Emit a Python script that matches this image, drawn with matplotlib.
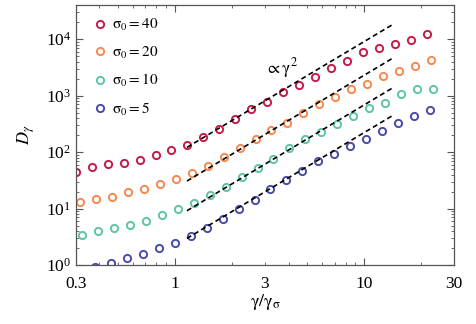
import numpy as np
import matplotlib
matplotlib.use("Agg")
import matplotlib.pyplot as plt
from matplotlib.ticker import LogLocator, FuncFormatter, LogFormatterSciNotation

plt.rcParams["font.family"] = "serif"
plt.rcParams["font.serif"] = ["Liberation Serif", "DejaVu Serif"]
plt.rcParams["mathtext.fontset"] = "stix"

# gamma / gamma_sigma values and D_gamma for each sigma_0
x_40 = [0.300, 0.364, 0.442, 0.537, 0.652, 0.792, 0.961, 1.167, 1.417, 1.721, 2.089, 2.537,
        3.080, 3.741, 4.542, 5.515, 6.697, 8.132, 9.875, 11.99, 14.56, 17.68, 21.47]
d_40 = [45.1, 54.2, 61.0, 64.4, 73.6, 88.1, 110.7, 134.2, 188.4, 261, 383, 577,
        786, 1182, 1574, 2155, 3026, 4143, 5985, 6955, 8054, 9642, 12470]

x_20 = [0.316, 0.384, 0.466, 0.566, 0.687, 0.835, 1.013, 1.230, 1.494, 1.814, 2.202, 2.674,
        3.246, 3.943, 4.787, 5.813, 7.059, 8.571, 10.41, 12.64, 15.35, 18.64, 22.63]
d_20 = [13.3, 14.8, 16.2, 19.5, 22.5, 26.7, 33.5, 42.8, 56.9, 81.2, 117.3, 171.4,
        244.5, 333, 495, 707, 963, 1304, 1618, 2217, 2753, 3336, 4259]

x_10 = [0.324, 0.393, 0.477, 0.580, 0.704, 0.855, 1.038, 1.260, 1.530, 1.859, 2.256, 2.740,
        3.326, 4.040, 4.905, 5.956, 7.233, 8.783, 10.67, 12.95, 15.72, 19.09, 23.19]
d_10 = [3.40, 4.01, 4.48, 5.12, 6.10, 7.70, 9.72, 12.4, 17.1, 24.4, 35.9, 52.4,
        76.7, 117.8, 169.4, 230, 319, 439, 615, 745, 1076, 1337, 1321]

x_5 = [0.379, 0.460, 0.559, 0.679, 0.824, 1.000, 1.215, 1.475, 1.792, 2.175, 2.641,
       3.206, 3.894, 4.728, 5.741, 6.972, 8.465, 10.28, 12.48, 15.16, 18.41, 22.35]
d_5 = [0.933, 1.099, 1.315, 1.586, 2.00, 2.48, 3.23, 4.53, 6.46, 9.96, 14.0,
       22.0, 31.8, 45.5, 69.8, 92.9, 128.8, 171.5, 237.6, 325, 442, 553]

# gamma^2 guide lines: prefactors and x range
fit_x = np.array([1.16, 14.4])
fit_coef = [90.0, 22.8, 6.8, 2.2]

series = [
    (x_40, d_40, "#c41c4a", r"$\mathrm{\sigma}_0 = 40$"),
    (x_20, d_20, "#f7894f", r"$\mathrm{\sigma}_0 = 20$"),
    (x_10, d_10, "#5ec6a0", r"$\mathrm{\sigma}_0 = 10$"),
    (x_5, d_5, "#4a4ca8", r"$\mathrm{\sigma}_0 = 5$"),
]

fig = plt.figure(figsize=(4.77, 3.24), dpi=100)
ax = fig.add_axes([0.159, 0.182, 0.952 - 0.159, 0.985 - 0.182])

for c in fit_coef:
    ax.plot(fit_x, c * fit_x ** 2, color="black", lw=1.2, dashes=(3, 2), zorder=3)

for xs, ds, col, lab in series:
    ax.plot(xs, ds, "o", mfc="none", mec=col, mew=1.4, ms=5.2, label=lab, zorder=2)

ax.set_xscale("log")
ax.set_yscale("log")
ax.set_xlim(0.3, 30)
ax.set_ylim(1, 4.05e4)

ax.xaxis.set_major_locator(LogLocator(base=10))
ax.xaxis.set_major_formatter(FuncFormatter(lambda v, p: "%g" % v))
ax.xaxis.set_minor_locator(LogLocator(base=10, subs=np.arange(2, 10)))
ax.xaxis.set_minor_formatter(FuncFormatter(
    lambda v, p: "%g" % v if any(abs(v - t) < 1e-6 * t for t in (0.3, 3, 30)) else ""))
ax.yaxis.set_major_formatter(LogFormatterSciNotation())

ax.tick_params(which="both", direction="in", top=True, right=True, color="#555555",
               labelsize=12.5)
ax.tick_params(which="major", length=5, width=0.8)
ax.tick_params(which="minor", length=2.5, width=0.6)
ax.tick_params(axis="x", which="both", pad=8)
for s in ax.spines.values():
    s.set_color("#555555")
    s.set_linewidth(0.9)

ax.set_xlabel(r"$\mathrm{\gamma/\gamma_\sigma}$", fontsize=13, labelpad=0)
ax.set_ylabel(r"$D_\gamma$", fontsize=13, labelpad=6)

ax.text(3.0, 2500, r"$\propto\mathrm{\gamma}^2$", fontsize=12.5, va="baseline", ha="left")

ax.legend(loc="upper left", bbox_to_anchor=(0.02, 1.0), frameon=False, fontsize=11,
          handlelength=0.6, handletextpad=0.5, labelspacing=0.75, borderaxespad=0.4)

fig.savefig("out.png", dpi=100)
